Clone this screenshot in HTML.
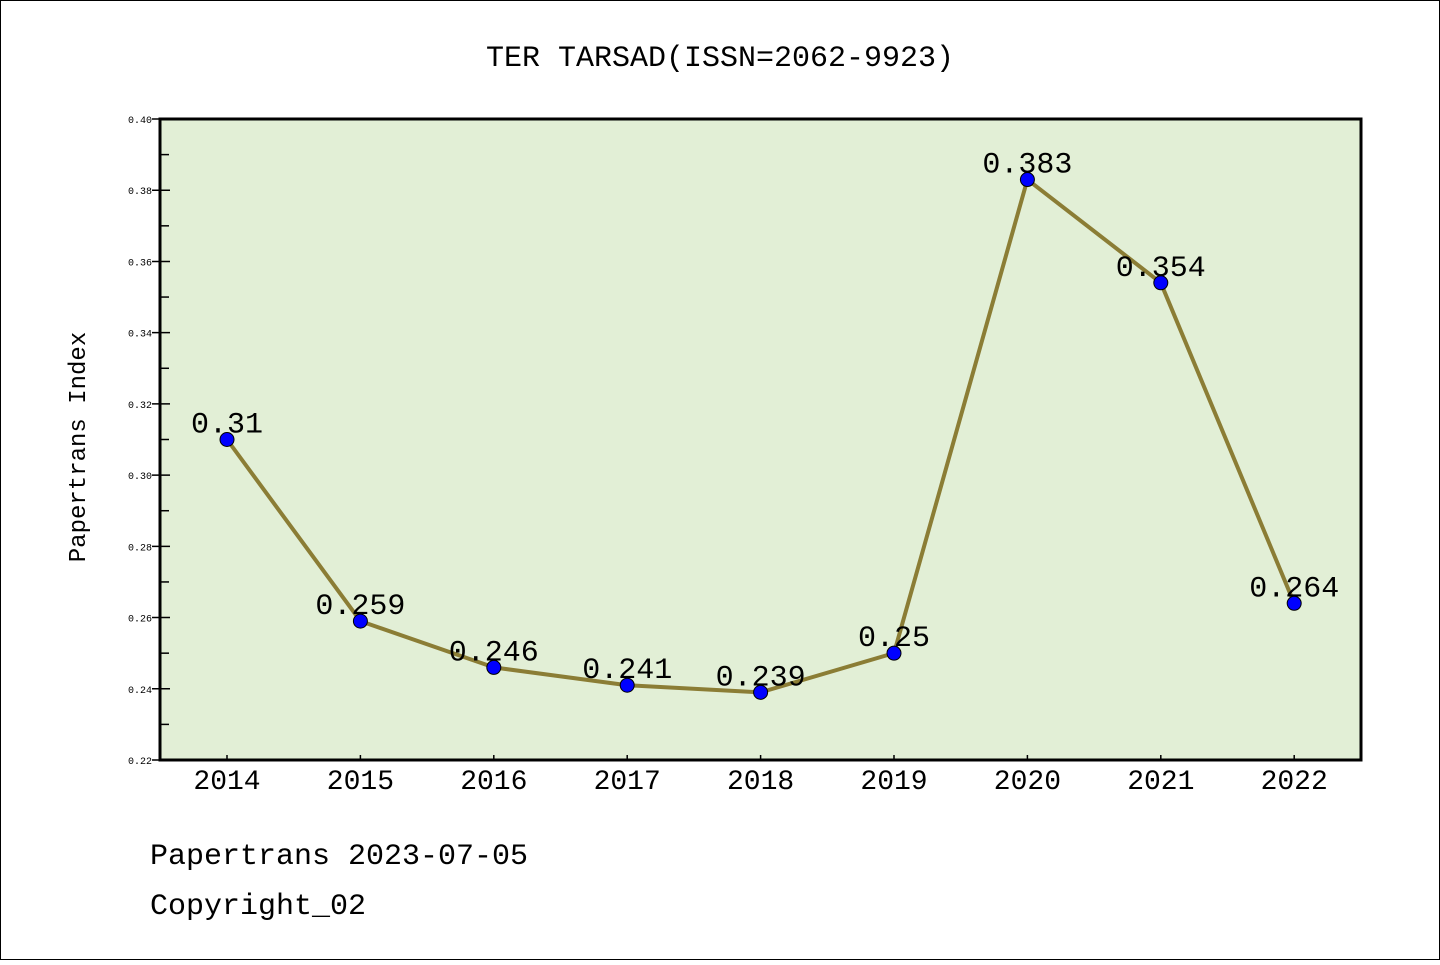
<!DOCTYPE html>
<html><head><meta charset="utf-8"><style>
body{margin:0;background:#fff}
svg text{font-family:"Liberation Mono","Noto Sans CJK SC",monospace}
</style></head><body>
<svg width="1440" height="960" xmlns="http://www.w3.org/2000/svg">
<rect x="0.5" y="0.5" width="1439" height="959" fill="#fff" stroke="#000"/>
<text x="720" y="66" text-anchor="middle" font-size="30">TER TARSAD(ISSN=2062-9923)</text>
<rect x="160" y="119" width="1201" height="641" fill="#e2efd6" stroke="#000" stroke-width="3"/>
<g id="axes"></g>
<g id="marks"></g>
<text transform="translate(85,447) rotate(-90)" text-anchor="middle" font-size="24">Papertrans Index</text>
<text x="150" y="864" font-size="30">Papertrans 2023-07-05</text>
<text x="150" y="914" font-size="30">Copyright_02</text>
</svg>
<script>
const years=["2014","2015","2016","2017","2018","2019","2020","2021","2022"];
const values=[0.31,0.259,0.246,0.241,0.239,0.25,0.383,0.354,0.264];
const labels=["0.31","0.259","0.246","0.241","0.239","0.25","0.383","0.354","0.264"];
const yTicks=["0.22","0.24","0.26","0.28","0.30","0.32","0.34","0.36","0.38","0.40"];
const NS="http://www.w3.org/2000/svg";
const yMin=0.22,yMax=0.40;
function ys(v){return 760-(v-yMin)/(yMax-yMin)*641;}
function xs(i){return 227+i*133.4;}
function mk(t,a,p){const e=document.createElementNS(NS,t);for(const k in a)e.setAttribute(k,a[k]);p.appendChild(e);return e;}
const ax=document.getElementById('axes'),mg=document.getElementById('marks');
yTicks.forEach((t,i)=>{const v=parseFloat(t),y=ys(v);
const l=mk('line',{x1:152,x2:170,y1:y,y2:y,stroke:'#000','stroke-width':1.5},ax);


const tx=mk('text',{x:152,y:y+4,'text-anchor':'end','font-size':10},ax);tx.textContent=t;


if(i<yTicks.length-1){const ym=ys(v+0.01);
const m=mk('line',{x1:160,x2:169,y1:ym,y2:ym,stroke:'#000','stroke-width':1.5},ax);

}
});
years.forEach((yr,i)=>{const x=xs(i);
const l=mk('line',{x1:x,x2:x,y1:760,y2:755,stroke:'#000','stroke-width':1.5},ax);


const t=mk('text',{x:x,y:789,'text-anchor':'middle','font-size':28,'font-family':'Liberation Sans, sans-serif'},ax);t.textContent=yr;


});
const pts=values.map((v,i)=>xs(i)+','+ys(v)).join(' ');
const pl=mk('polyline',{points:pts,fill:'none',stroke:'#8b7d35','stroke-width':4,'stroke-linejoin':'round'},mg);


values.forEach((v,i)=>{
const c=mk('circle',{cx:xs(i),cy:ys(v),r:7,fill:'#0000ff',stroke:'#000','stroke-width':1},mg);


const t=mk('text',{x:xs(i),y:ys(v)-7,'text-anchor':'middle','font-size':30},mg);t.textContent=labels[i];


});
</script>
</body></html>
